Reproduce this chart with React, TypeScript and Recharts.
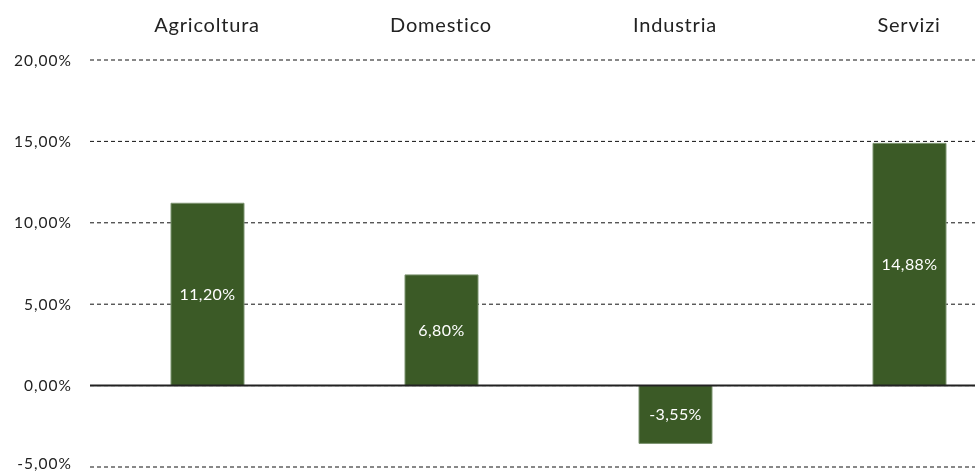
import React from "react";
import { BarChart, Bar, XAxis, YAxis, CartesianGrid, ReferenceLine, LabelList } from "recharts";

const categories = ["Agricoltura", "Domestico", "Industria", "Servizi"];
const values = [11.2, 6.8, -3.55, 14.88];
const yTicks = [-5, 0, 5, 10, 15, 20];

const data = categories.map((c, i) => ({ name: c, value: values[i] }));

const fmt = (v: number) => v.toFixed(2).replace(".", ",") + "%";
const FONT = "Lato, 'Noto Sans', sans-serif";

const YTick = (props: any) => {
  const { x, y, payload } = props;
  const shift = payload.value === yTicks[0] ? -4 : 0;
  return (
    <text
      x={x}
      y={y + shift}
      dy="0.355em"
      textAnchor="end"
      fill="#222"
      fontSize={15.5}
      fontFamily={FONT}
      letterSpacing={1}
    >
      {fmt(payload.value)}
    </text>
  );
};

export default function App() {
  return (
    <div style={{ position: "fixed", left: 0, top: 0, width: 975, height: 474, overflow: "hidden", fontFamily: FONT }}>
      <BarChart
        width={975}
        height={474}
        data={data}
        margin={{ top: 30, right: 0, bottom: 7, left: 0 }}
        barCategoryGap={0}
      >
        <CartesianGrid vertical={false} stroke="#111" strokeDasharray="4 3" />
        <XAxis
          dataKey="name"
          orientation="top"
          axisLine={false}
          tickLine={false}
          height={30}
          tickMargin={22}
          padding={{ left: 0, right: -51 }}
          tick={{ fill: "#222", fontSize: 20, fontFamily: FONT, letterSpacing: 0.8 }}
          interval={0}
        />
        <YAxis
          domain={[-5, 20]}
          ticks={yTicks}
          interval={0}
          width={90}
          axisLine={false}
          tickLine={false}
          tickMargin={12}
          tick={<YTick />}
        />
        <ReferenceLine y={0} stroke="#222" strokeWidth={2} />
        <Bar dataKey="value" fill="#3b5a26" stroke="#7d9470" strokeWidth={1} barSize={73} isAnimationActive={false}>
          <LabelList
            dataKey="value"
            position="center"
            formatter={(v: any) => fmt(Number(v))}
            style={{ fill: "#fff", fontSize: 16, fontFamily: FONT, letterSpacing: 0.4 }}
          />
        </Bar>
      </BarChart>
    </div>
  );
}
